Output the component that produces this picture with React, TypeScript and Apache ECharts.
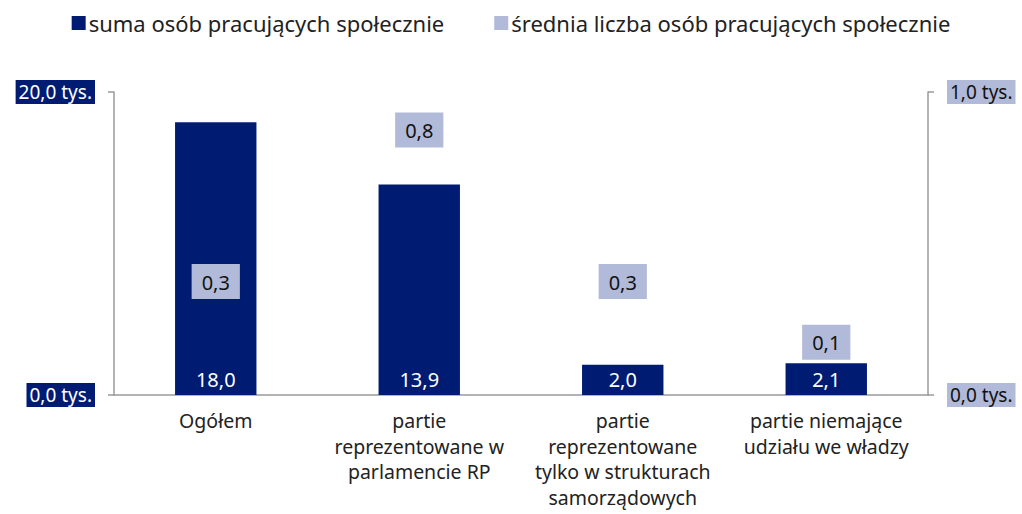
import React, { useEffect, useRef } from "react";
import * as echarts from "echarts";

const categories = [
  "Ogółem",
  "partie\nreprezentowane w\nparlamencie RP",
  "partie\nreprezentowane\ntylko w strukturach\nsamorządowych",
  "partie niemające\nudziału we władzy",
];
const sumaValues = [18.0, 13.9, 2.0, 2.1];
const sredniaValues = [0.3, 0.8, 0.3, 0.1];
const seriesNames = ["suma osób pracujących społecznie", "średnia liczba osób pracujących społecznie"];
const leftAxisRange = [0, 20];
const rightAxisRange = [0, 1];

const NAVY = "#001c72";
const LIGHT = "#b1bad8";
const FONT = "Noto Sans";

const fmt = (v: number) => v.toFixed(1).replace(".", ",");

export default function App() {
  const ref = useRef<HTMLDivElement>(null);
  useEffect(() => {
    if (!ref.current) return;
    const chart = echarts.init(ref.current, undefined, { renderer: "svg" });
    chart.setOption({
      animation: false,
      textStyle: { fontFamily: FONT },
      legend: {
        top: 7,
        left: "center",
        itemWidth: 14,
        itemHeight: 14,
        itemGap: 50,
        icon: "rect",
        textStyle: { fontSize: 22, color: "#222", fontFamily: FONT, padding: [0, 0, 0, -2] },
        data: seriesNames,
      },
      grid: { left: 114, right: 94, top: 92, bottom: 119, containLabel: false },
      xAxis: {
        type: "category",
        data: categories,
        axisLine: { show: true, lineStyle: { color: "#9a9a9a", width: 1.5 } },
        axisTick: { show: false },
        axisLabel: {
          interval: 0,
          fontSize: 19.5,
          lineHeight: 25.5,
          color: "#222",
          margin: 13,
          fontFamily: FONT,
        },
      },
      yAxis: [
        {
          type: "value",
          min: leftAxisRange[0],
          max: leftAxisRange[1],
          interval: leftAxisRange[1] - leftAxisRange[0],
          splitLine: { show: false },
          axisLine: { show: true, lineStyle: { color: "#9a9a9a", width: 1.5 } },
          axisTick: { show: true, length: 6, lineStyle: { color: "#9a9a9a", width: 1.5 } },
          axisLabel: {
            formatter: (v: number) => fmt(v) + " tys.",
            color: "#fff",
            backgroundColor: NAVY,
            fontSize: 19,
            padding: [3, 3, 2, 3],
            margin: 19,
            fontFamily: FONT,
          },
        },
        {
          type: "value",
          min: rightAxisRange[0],
          max: rightAxisRange[1],
          interval: rightAxisRange[1] - rightAxisRange[0],
          splitLine: { show: false },
          axisLine: { show: true, lineStyle: { color: "#9a9a9a", width: 1.5 } },
          axisTick: { show: true, length: 6, lineStyle: { color: "#9a9a9a", width: 1.5 } },
          axisLabel: {
            formatter: (v: number) => fmt(v) + " tys.",
            color: "#111",
            backgroundColor: LIGHT,
            fontSize: 19,
            padding: [3, 3, 2, 3],
            margin: 19,
            fontFamily: FONT,
          },
        },
      ],
      series: [
        {
          name: seriesNames[0],
          type: "bar",
          yAxisIndex: 0,
          data: sumaValues,
          barWidth: "40%",
          itemStyle: { color: NAVY },
          label: {
            show: true,
            position: "insideBottom",
            distance: 6,
            color: "#fff",
            fontSize: 20,
            fontFamily: FONT,
            formatter: (p: any) => fmt(p.value),
          },
        },
        {
          name: seriesNames[1],
          type: "scatter",
          yAxisIndex: 1,
          data: sredniaValues,
          symbolSize: 0,
          itemStyle: { color: LIGHT, opacity: 1 },
          label: {
            show: true,
            position: "top",
            distance: 5,
            color: "#111",
            fontSize: 20,
            fontFamily: FONT,
            backgroundColor: LIGHT,
            padding: [8, 10, 7, 10],
            formatter: (p: any) => fmt(p.value),
          },
        },
      ],
    });
    return () => chart.dispose();
  }, []);
  return <div ref={ref} style={{ width: 1022, height: 514, position: "absolute", left: 0, top: 0 }} />;
}
